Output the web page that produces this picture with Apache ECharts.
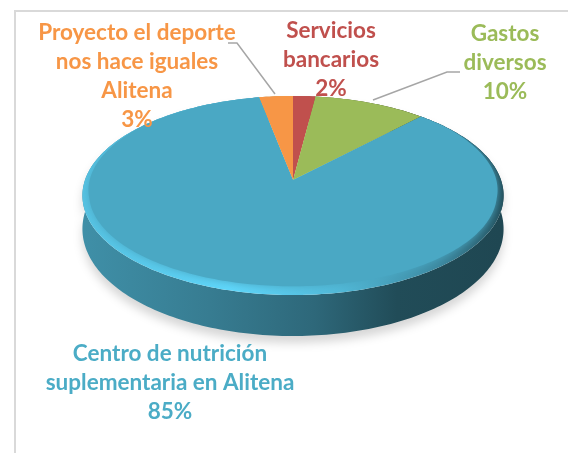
<!DOCTYPE html>
<html>
<head>
<meta charset="utf-8">
<title>Gastos</title>
<style>
  html, body { margin: 0; padding: 0; background: #fff; }
  #main { width: 568px; height: 453px; }
</style>
<script src="https://cdn.jsdelivr.net/npm/echarts@6/dist/echarts.min.js"></script>
</head>
<body>
<div id="main"></div>
<script>
// clockwise from the top of the pie
var categories = ['Servicios\nbancarios', 'Gastos\ndiversos', 'Centro de nutrición\nsuplementaria en Alitena', 'Proyecto el deporte\nnos hace iguales\nAlitena'];
var values = [2, 10, 85, 3];
var colors = ['#c0504d', '#9bbb59', '#4aa8c4', '#f79646'];
var labelColors = ['#c0504d', '#9bbb59', '#4bacc6', '#f79646'];

(function () {
  var myChart = echarts.init(document.querySelector('#main'));

  // perspective of the disc: unit circle -> screen
  var cx = 293, apexY = 180, radiusX = 208, a = 69, persp = -0.156;
  function project(u, v) {
    var d = 1 + persp * v;
    return [cx + radiusX * u / d, (a * v + apexY) / d];
  }
  function depth(v) { return 32 + 9 * v; }

  // k < 1 darker, k > 1 lighter
  function shade(hex, k) {
    var n = parseInt(hex.slice(1), 16);
    var rgb = [n >> 16, (n >> 8) & 255, n & 255].map(function (c) {
      return Math.min(255, Math.round(c * k));
    });
    return 'rgb(' + rgb.join(',') + ')';
  }

  var total = values.reduce(function (s, v) { return s + v; }, 0);
  function range(i) {
    var before = 0;
    for (var k = 0; k < i; k++) before += values[k];
    return [before / total * Math.PI * 2, (before + values[i]) / total * Math.PI * 2];
  }
  // points along the rim, angle 0 is the top, going clockwise
  function rim(r, fn) {
    var pts = [], n = Math.max(2, Math.ceil((r[1] - r[0]) / 0.02));
    for (var i = 0; i <= n; i++) {
      var t = r[0] + (r[1] - r[0]) * i / n;
      pts.push(fn(Math.sin(t), -Math.cos(t)));
    }
    return pts;
  }

  var labelBoxes = [
    { x: 331, y: 60 },
    { x: 505, y: 63 },
    { x: 170, y: 383 },
    { x: 137, y: 76 }
  ];

  // side wall + soft shadow
  function renderWall(params) {
    var i = params.dataIndex, r = range(i), c = colors[i];
    var top = rim(r, function (u, v) { return project(u, v); });
    var bottom = rim(r, function (u, v) {
      var p = project(u, v);
      return [p[0], p[1] + depth(v)];
    }).reverse();
    return {
      type: 'polygon',
      shape: { points: top.concat(bottom) },
      style: {
        fill: {
          type: 'linear', x: 85, y: 0, x2: 501, y2: 0, global: true,
          colorStops: [
            { offset: 0, color: shade(c, 0.85) },
            { offset: 0.3, color: shade(c, 0.74) },
            { offset: 0.55, color: shade(c, 0.62) },
            { offset: 0.75, color: shade(c, 0.45) },
            { offset: 1, color: shade(c, 0.42) }
          ]
        },
        shadowColor: 'rgba(0,0,0,0.16)',
        shadowBlur: 10,
        shadowOffsetY: 7
      }
    };
  }

  // top face: bevel ring, then the flat part
  function renderTop(params) {
    var i = params.dataIndex, r = range(i), c = colors[i];
    var apex = project(0, 0);
    var biggest = values[i] === Math.max.apply(null, values);
    var outer = [apex].concat(rim(r, function (u, v) { return project(u, v); }));
    // the bevel only shows on the front of the disc
    var inner = rim(r, function (u, v) {
      var w = Math.max(0, Math.min(1, (v + 0.6) / 0.8));
      return project(u * (1 - 0.03 * w), v * (1 - 0.065 * w));
    });
    return {
      type: 'group',
      children: [{
        type: 'polygon',
        z2: 0,
        shape: { points: outer },
        style: {
          fill: {
            type: 'linear', x: 100, y: 300, x2: 505, y2: 180, global: true,
            colorStops: [
              { offset: 0, color: shade(c, 1.15) },
              { offset: 0.3, color: shade(c, 1.28) },
              { offset: 0.55, color: shade(c, 1.1) },
              { offset: 0.8, color: shade(c, 0.8) },
              { offset: 1, color: shade(c, 0.42) }
            ]
          }
        }
      }, {
        type: 'polygon',
        z2: biggest ? 1 : 2,
        shape: { points: [apex].concat(inner) },
        // keep the blur of the bevel inside the slice
        clipPath: { type: 'polygon', shape: { points: outer } },
        style: {
          fill: c,
          shadowColor: biggest ? c : 'transparent',
          shadowBlur: biggest ? 8 : 0
        }
      }, {
        type: 'text',
        z2: 10,
        style: {
          x: labelBoxes[i].x,
          y: labelBoxes[i].y,
          text: categories[i] + '\n' + values[i] + '%',
          fill: labelColors[i],
          font: 'bold 22.5px Lato, "Open Sans", sans-serif',
          lineHeight: 29,
          align: 'center',
          verticalAlign: 'middle'
        }
      }]
    };
  }

  var option = {
    animation: false,
    backgroundColor: '#fff',
    // frame of the pasted chart and the two leader lines
    graphic: [
      {
        type: 'polyline', z: 0, silent: true,
        shape: { points: [[568, 11], [15, 11], [15, 453]] },
        style: { fill: 'none', stroke: '#d9d9d9', lineWidth: 2 }
      },
      {
        type: 'polyline', z: 5, silent: true,
        shape: { points: [[228, 43], [237, 43], [275, 94]] },
        style: { fill: 'none', stroke: '#a6a6a6', lineWidth: 1.5 }
      },
      {
        type: 'polyline', z: 5, silent: true,
        shape: { points: [[373, 100], [447, 72], [460, 72]] },
        style: { fill: 'none', stroke: '#a6a6a6', lineWidth: 1.5 }
      }
    ],
    series: [
      { type: 'custom', coordinateSystem: 'none', z: 2, silent: true, data: values, renderItem: renderWall },
      { type: 'custom', coordinateSystem: 'none', z: 3, silent: true, data: values, renderItem: renderTop }
    ]
  };
  myChart.setOption(option);
})();
</script>
</body>
</html>
